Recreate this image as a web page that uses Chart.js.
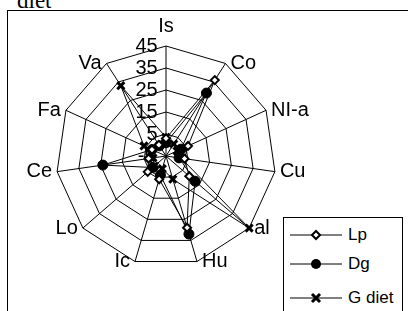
<!DOCTYPE html>
<html>
<head>
<meta charset="utf-8">
<script src="https://cdn.jsdelivr.net/npm/chart.js@4/dist/chart.umd.min.js"></script>
<style>
  body { margin: 0; background: #fff; width: 408px; height: 311px; overflow: hidden; position: relative; }
  #title { position: absolute; left: 17px; top: -12px; font: 23px "Liberation Serif", serif; color: #000; }
  #frame { position: absolute; left: 7px; top: 10px; width: 420px; height: 320px; border: 1px solid #000; }
  #wrap { position: absolute; left: 13px; top: 11px; width: 310px; height: 284px; }
  #legend { position: absolute; left: 283px; top: 217px; width: 118px; height: 110px; border: 1px solid #000; background: #fff;
            font: 17px Arial, "Liberation Sans", sans-serif; }
  .item { position: absolute; left: 6px; height: 20px; display: flex; align-items: center; }
  .item svg { margin-right: 6px; }
</style>
</head>
<body>
<div id="title">diet</div>
<div id="frame"></div>
<div id="wrap"><canvas id="radar"></canvas></div>
<div id="legend"></div>
<script>
var categories = ["Is", "Co", "NI-a", "Cu", "al", "Hu", "Ic", "Lo", "Ce", "Fa", "Va"];
var lpValues = [3, 36, 6, 3.5, 9, 29, 6, 6, 3, 2, 1];
var dgValues = [1, 29, 2.5, 1, 12.5, 32, 4, 3, 24, 2, 0.5];
var gdietValues = [3.5, 1.5, 0.5, 2, 45, 6, 1, 2, 1, 6, 33];
var tickLabels = [-5, 5, 15, 25, 35, 45];

Chart.defaults.font.family = "Arial";
Chart.defaults.font.size = 20;
Chart.defaults.color = "black";

// excel puts the labels level with the spoke end, a few px to the side
var excelLabels = {
  id: "excelLabels",
  afterUpdate: function (chart) {
    var s = chart.scales.r;
    (s._pointLabelItems || []).forEach(function (it, i) {
      if (i === 0) return;
      var v = s.getPointPosition(i, s.drawingArea);
      var w = it.right - it.left, h = it.bottom - it.top;
      var gap = 5;
      if (it.textAlign === "left") {
        it.x = v.x + gap; it.left = it.x; it.right = it.x + w;
      } else if (it.textAlign === "right") {
        it.x = v.x - gap; it.right = it.x; it.left = it.x - w;
      }
      it.y = v.y - h / 2; it.top = it.y; it.bottom = it.y + h;
    });
  }
};

var marksData = {
  labels: categories,
  datasets: [
    {
      label: "Lp",
      data: lpValues,
      borderColor: "black",
      borderWidth: 1,
      pointStyle: "rectRot",
      pointRadius: 4,
      pointBackgroundColor: "white",
      pointBorderColor: "black",
      pointBorderWidth: 2,
      fill: false
    },
    {
      label: "Dg",
      data: dgValues,
      borderColor: "black",
      borderWidth: 1,
      pointStyle: "circle",
      pointRadius: 5,
      pointBackgroundColor: "black",
      pointBorderColor: "black",
      fill: false
    },
    {
      label: "G diet",
      data: gdietValues,
      borderColor: "black",
      borderWidth: 1,
      pointStyle: "crossRot",
      pointRadius: 5,
      pointBorderColor: "black",
      pointBorderWidth: 3,
      fill: false
    }
  ]
};

var chartOptions = {
  responsive: true,
  maintainAspectRatio: false,
  animation: false,
  layout: { padding: 0 },
  plugins: {
    legend: { display: false },
    tooltip: { enabled: false }
  },
  elements: { line: { tension: 0 } },
  scales: {
    r: {
      min: tickLabels[0],
      max: tickLabels[tickLabels.length - 1],
      ticks: {
        stepSize: 10,
        showLabelBackdrop: false,
        backdropPadding: 0,
        color: "black",
        font: { size: 20 },
        // right-align the numbers a little left of the spoke
        callback: function (v) {
          var s = String(v);
          while (s.length < 2) s = "\u2007" + s;
          return s + "       ";
        }
      },
      grid: { color: "black", lineWidth: 1 },
      angleLines: { color: "black", lineWidth: 1 },
      pointLabels: {
        font: { size: 20 },
        color: "black",
        padding: function (ctx) { return ctx.index === 0 ? -2 : -5; }
      }
    }
  }
};

var radarChart = new Chart(document.getElementById("radar"), {
  type: "radar",
  data: marksData,
  options: chartOptions,
  plugins: [excelLabels]
});

// legend box like the original
function markerSvg(ds) {
  var m = "";
  if (ds.pointStyle === "rectRot") {
    m = '<polygon points="26,4 30,8 26,12 22,8" fill="white" stroke="black" stroke-width="2"/>';
  } else if (ds.pointStyle === "circle") {
    m = '<circle cx="26" cy="8" r="5" fill="black"/>';
  } else {
    m = '<path d="M22,4 L30,12 M30,4 L22,12" stroke="black" stroke-width="3"/>';
  }
  return '<svg width="52" height="16"><line x1="0" y1="8" x2="52" y2="8" stroke="black" stroke-width="1"/>' + m + '</svg>';
}
var legendEl = document.getElementById("legend");
var tops = [7, 36, 70];
marksData.datasets.forEach(function (ds, i) {
  var d = document.createElement("div");
  d.className = "item";
  d.style.top = tops[i] + "px";
  d.innerHTML = markerSvg(ds) + "<span>" + ds.label + "</span>";
  legendEl.appendChild(d);
});
</script>
</body>
</html>
